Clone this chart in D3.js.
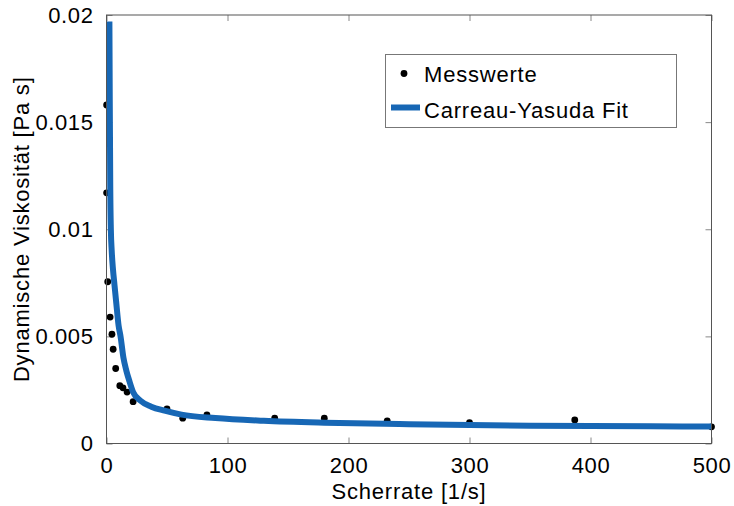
<!DOCTYPE html>
<html>
<head>
<meta charset="utf-8">
<script src="https://cdn.jsdelivr.net/npm/d3@7/dist/d3.min.js"></script>
<style>
  html, body { margin: 0; padding: 0; background: #fff; }
  svg text { font-family: "Liberation Sans", Arial, sans-serif; fill: #000; }
</style>
</head>
<body>
<svg id="chart" width="734" height="506"></svg>
<script>
// Measured viscosity (shear rate in 1/s, viscosity in Pa s)
const measRate = [0.1, 0.1, 1.0, 3, 4.5, 5.5, 7.6, 11, 13.6, 17, 22, 50, 63, 83, 139, 180, 232, 300, 387, 500];
const measVisc = [0.0158, 0.0117, 0.00755, 0.0059, 0.0051, 0.0044, 0.0035, 0.0027, 0.0026, 0.0024, 0.00195,
                  0.00161, 0.00118, 0.00133, 0.00118, 0.00118, 0.00106, 0.00097, 0.0011, 0.00078];

// Carreau-Yasuda fit curve samples
const fitRate = [2.4, 2.7, 3.1, 3.6, 4.3, 5.4, 6.6, 8, 10, 11.6, 14, 16.4, 19, 22, 28, 37, 48, 62, 90, 130, 180, 250, 350, 450, 500];
const fitVisc = [0.0197, 0.0160, 0.0120, 0.0100, 0.0090, 0.0081, 0.0074, 0.0066, 0.0055, 0.0050, 0.0040, 0.0034,
                 0.0029, 0.0024, 0.0020, 0.00172, 0.00153, 0.00135, 0.00119, 0.00106, 0.00097, 0.00090, 0.00083,
                 0.00080, 0.00079];

const xTicks = [0, 100, 200, 300, 400, 500];
const yTicks = [0, 0.005, 0.01, 0.015, 0.02];
const yTickLabels = ["0", "0.005", "0.01", "0.015", "0.02"];

const xTitle = "Scherrate [1/s]";
const yTitle = "Dynamische Viskosität [Pa s]";
const legendLabels = ["Messwerte", "Carreau-Yasuda Fit"];

const fitColor = "#1767b5";
const frameColor = "#555";

const svg = d3.select("#chart");
const plotLeft = 106.5, plotTop = 15, plotW = 605, plotH = 428.5;

const x = d3.scaleLinear().domain([0, 500]).range([plotLeft, plotLeft + plotW]);
const y = d3.scaleLinear().domain([0, 0.02]).range([plotTop + plotH, plotTop]);

svg.append("defs").append("clipPath").attr("id", "plotClip")
  .append("rect").attr("x", plotLeft).attr("y", plotTop).attr("width", plotW).attr("height", plotH);

// Axes with inward ticks on all four sides
const tickLen = 6;
const bottomAxis = d3.axisBottom(x).tickValues(xTicks).tickSize(-tickLen).tickPadding(14).tickFormat(d3.format("d"));
const topAxis = d3.axisTop(x).tickValues(xTicks).tickSize(-tickLen).tickFormat("");
const leftAxis = d3.axisLeft(y).tickValues(yTicks).tickSize(-tickLen).tickPadding(13)
  .tickFormat((d, i) => yTickLabels[i]);
const rightAxis = d3.axisRight(y).tickValues(yTicks).tickSize(-tickLen).tickFormat("");

function styleAxis(g) {
  g.attr("font-family", null).attr("font-size", null);
  g.select(".domain").remove();
  g.selectAll(".tick line").attr("stroke", "#888").attr("stroke-width", 1);
  g.selectAll(".tick text").style("font-size", "22px").style("letter-spacing", "0.6px");
}

svg.append("g").attr("transform", `translate(0,${plotTop + plotH})`).call(bottomAxis).call(styleAxis)
  .selectAll(".tick text").attr("dy", "0.71em");
svg.append("g").attr("transform", `translate(0,${plotTop})`).call(topAxis).call(styleAxis);
svg.append("g").attr("transform", `translate(${plotLeft},0)`).call(leftAxis).call(styleAxis);
svg.append("g").attr("transform", `translate(${plotLeft + plotW},0)`).call(rightAxis).call(styleAxis);

// Measurement markers (not clipped, so edge points stay visible)
svg.append("g").selectAll("circle.meas")
  .data(d3.zip(measRate, measVisc))
  .join("circle")
  .attr("class", "meas")
  .attr("cx", d => x(d[0]))
  .attr("cy", d => y(d[1]))
  .attr("r", 3.4)
  .attr("fill", "#000");

// Fit curve
const plot = svg.append("g").attr("clip-path", "url(#plotClip)");
const line = d3.line().x(d => x(d[0])).y(d => y(d[1])).curve(d3.curveMonotoneX);
plot.append("path")
  .datum(d3.zip(fitRate, fitVisc))
  .attr("d", line)
  .attr("fill", "none")
  .attr("stroke", fitColor)
  .attr("stroke-width", 6)
  .attr("stroke-linejoin", "round");

// Plot frame
svg.append("rect")
  .attr("x", plotLeft).attr("y", plotTop).attr("width", plotW).attr("height", plotH)
  .attr("fill", "none").attr("stroke", frameColor).attr("stroke-width", 1);

// Axis titles
svg.append("text")
  .attr("x", plotLeft + plotW / 2).attr("y", 499)
  .attr("text-anchor", "middle")
  .style("font-size", "22px").style("letter-spacing", "0.8px")
  .text(xTitle);

svg.append("text")
  .attr("transform", `translate(29,${plotTop + plotH / 2}) rotate(-90)`)
  .attr("text-anchor", "middle")
  .style("font-size", "22px").style("letter-spacing", "0.8px")
  .text(yTitle);

// Legend
const legend = svg.append("g");
legend.append("rect")
  .attr("x", 385.5).attr("y", 54.5).attr("width", 291).attr("height", 73)
  .attr("fill", "#fff").attr("stroke", "#777").attr("stroke-width", 1);
legend.append("circle").attr("cx", 404).attr("cy", 73.5).attr("r", 3.4).attr("fill", "#000");
legend.append("text").attr("x", 424).attr("y", 82)
  .style("font-size", "22px").style("letter-spacing", "0.8px").text(legendLabels[0]);
legend.append("line").attr("x1", 391).attr("x2", 420).attr("y1", 107.5).attr("y2", 107.5)
  .attr("stroke", fitColor).attr("stroke-width", 6);
legend.append("text").attr("x", 424).attr("y", 118)
  .style("font-size", "22px").style("letter-spacing", "0.8px").text(legendLabels[1]);
</script>
</body>
</html>
